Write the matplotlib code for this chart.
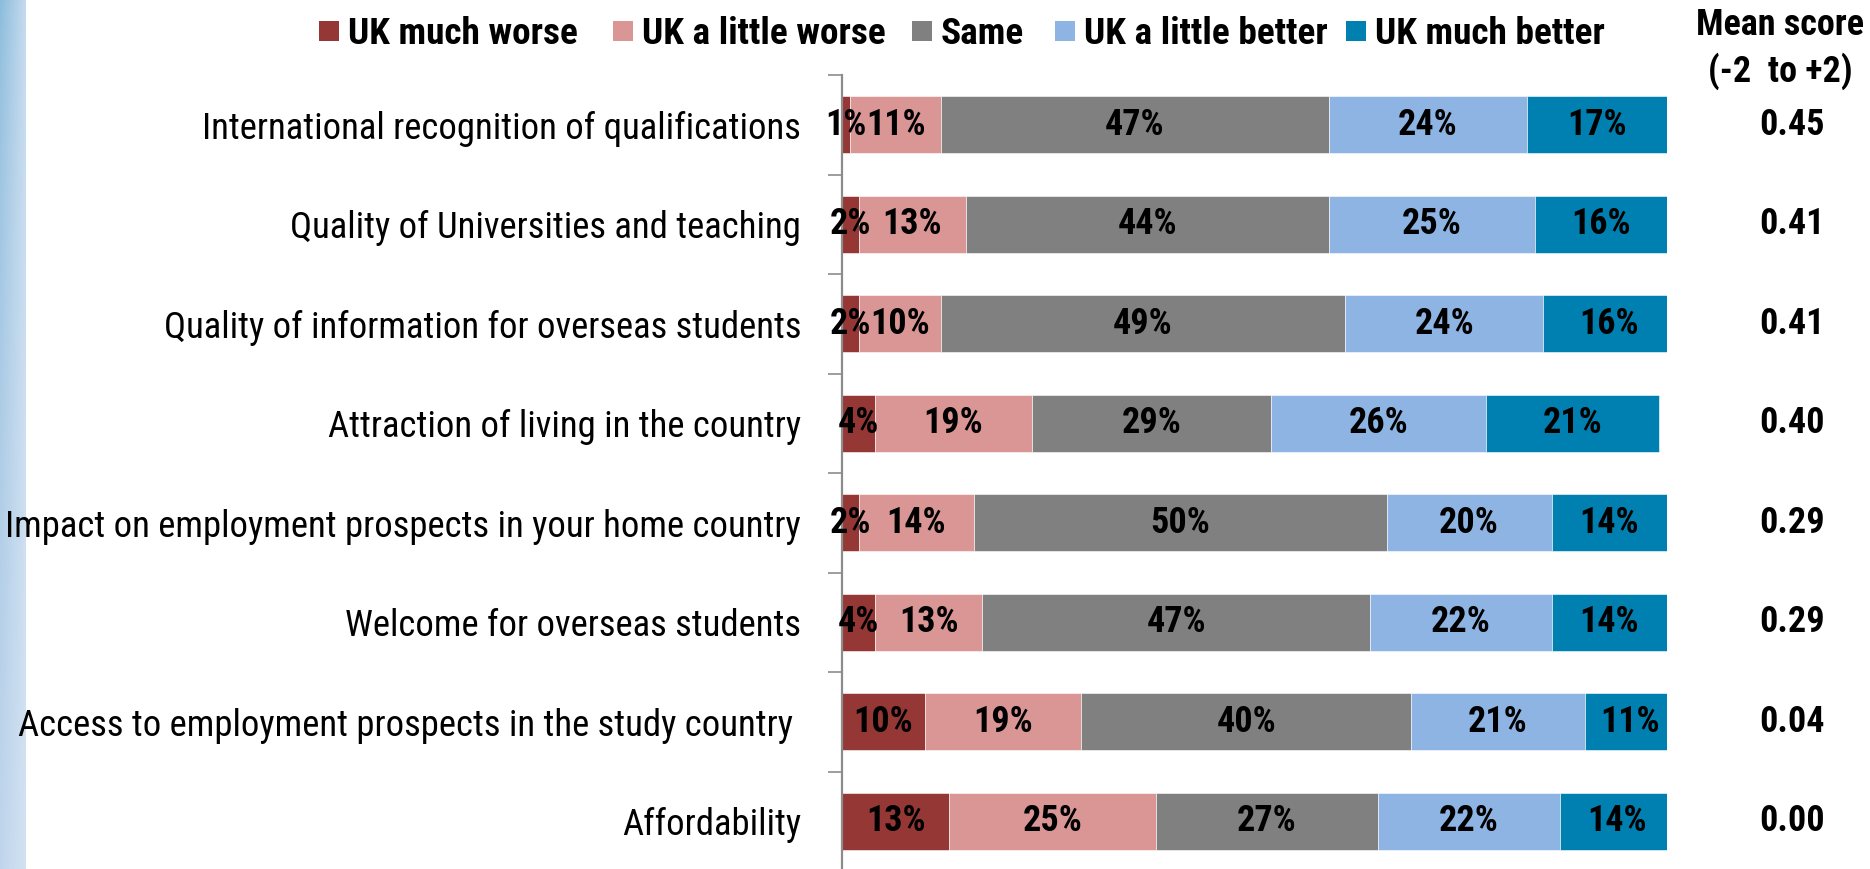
import numpy as np
import matplotlib
matplotlib.use("Agg")
import matplotlib.pyplot as plt
from matplotlib import font_manager
from matplotlib.patches import Rectangle
from matplotlib.transforms import blended_transform_factory

# ---- data ---------------------------------------------------------------
categories = [
    "International recognition of qualifications",
    "Quality of Universities and teaching",
    "Quality of information for overseas students",
    "Attraction of living in the country",
    "Impact on employment prospects in your home country",
    "Welcome for overseas students",
    "Access to employment prospects in the study country ",
    "Affordability",
]
much_worse = [1, 2, 2, 4, 2, 4, 10, 13]
little_worse = [11, 13, 10, 19, 14, 13, 19, 25]
same = [47, 44, 49, 29, 50, 47, 40, 27]
little_better = [24, 25, 24, 26, 20, 22, 21, 22]
much_better = [17, 16, 16, 21, 14, 14, 11, 14]
mean_scores = [0.45, 0.41, 0.41, 0.40, 0.29, 0.29, 0.04, 0.00]

series_names = ["UK much worse", "UK a little worse", "Same",
                "UK a little better", "UK much better"]
series_values = [much_worse, little_worse, same, little_better, much_better]
colors = ["#953735", "#D99694", "#808080", "#8EB4E3", "#0080B0"]

# ---- fonts: prefer a narrow sans, fall back to a regular one --------------
available = {f.name for f in font_manager.fontManager.ttflist}
narrow = next((n for n in ["Liberation Sans Narrow", "Arial Narrow",
                           "Roboto Condensed", "Open Sans Condensed"]
               if n in available), None)
FAMILY = ([narrow] if narrow else []) + ["Liberation Sans", "DejaVu Sans"]
plt.rcParams["font.family"] = FAMILY

W, H = 1870, 869
fig = plt.figure(figsize=(W / 100, H / 100), dpi=100)
fig.patch.set_facecolor("white")
renderer = fig.canvas.get_renderer()


def text_width(text, size, weight="normal"):
    t = fig.text(0, 0, text, fontsize=size, fontweight=weight)
    w = t.get_window_extent(renderer).width
    t.remove()
    return w


def fitted_size(text, nominal, target_px, weight="normal"):
    """Font size at which `text` is target_px wide (never above nominal)."""
    return min(nominal, nominal * target_px / text_width(text, nominal, weight))


k = 1.0 if narrow else 0.86
fs_label = fitted_size(categories[4], 28, 793)
fs_leg = fitted_size("UK much worse", 27, 230, "bold")
fs_bar = 26 * k
fs_mean = 26 * k


def fx(px):
    return px / W


def fy(px):
    return 1 - px / H


# ---- decorative gradient stripe on the left edge -------------------------
sax = fig.add_axes([0, 0, fx(26), 1])
tl, tr = np.array([138, 188, 220]), np.array([196, 218, 238])
bl, br = np.array([192, 213, 236]), np.array([210, 226, 242])
u = np.linspace(0, 1, 26)[None, :, None]
v = np.linspace(0, 1, 200)[:, None, None] ** 0.6
grad = (tl * (1 - u) * (1 - v) + tr * u * (1 - v)
        + bl * (1 - u) * v + br * u * v) / 255.0
sax.imshow(grad, aspect="auto", extent=[0, 1, 0, 1], origin="upper")
sax.set_axis_off()

# ---- main chart -----------------------------------------------------------
ax_h = 796 / H
ax = fig.add_axes([fx(842), fy(75) - ax_h, fx(1667) - fx(842), ax_h])

y = np.arange(len(categories))
left = np.zeros(len(categories))
for name, vals, col in zip(series_names, series_values, colors):
    vals = np.array(vals, dtype=float)
    ax.barh(y, vals, left=left, height=0.57, color=col, label=name,
            edgecolor="white", linewidth=0.4, zorder=2)
    for yi, (l, v_) in enumerate(zip(left, vals)):
        ax.text(l + v_ / 2, yi, f"{int(v_)}%", ha="center", va="center",
                fontsize=fs_bar, fontweight="bold", color="black", zorder=10)
    left += vals

ax.set_xlim(0, 100)
ax.set_ylim(len(categories) - 0.5, -0.5)
ax.set_yticks(y)
ax.set_yticklabels(categories, fontsize=fs_label)
ax.set_yticks(np.arange(-0.5, len(categories)), minor=True)
ax.tick_params(axis="y", which="major", length=0, pad=29.5)
ax.tick_params(axis="y", which="minor", length=10, width=1.2,
               color="#8c8c8c", direction="out")
ax.tick_params(axis="x", which="both", bottom=False, labelbottom=False)
for s in ["top", "right", "bottom"]:
    ax.spines[s].set_visible(False)
ax.spines["left"].set_color("#8c8c8c")
ax.spines["left"].set_linewidth(1.6)
ax.spines["left"].set_zorder(5)

# ---- legend row: colour square followed by series name -------------------
legend_x = [319, 613, 912, 1055, 1330]
prev_end = 0
for x0, name, col in zip(legend_x, series_names, colors):
    x0 = max(x0, prev_end + 18)
    fig.patches.append(Rectangle((fx(x0), fy(41)), fx(20), 20 / H,
                                 transform=fig.transFigure, facecolor=col,
                                 edgecolor="none"))
    fig.text(fx(x0 + 29), fy(44), name, ha="left", va="baseline",
             fontsize=fs_leg, fontweight="bold")
    prev_end = x0 + 29 + text_width(name, fs_leg, "bold")

# ---- mean score column ---------------------------------------------------
fig.text(fx(1780), fy(35), "Mean score", ha="center", va="baseline",
         fontsize=fs_mean, fontweight="bold")
fig.text(fx(1780), fy(82), "(-2  to +2)", ha="center", va="baseline",
         fontsize=fs_mean, fontweight="bold")
trans = blended_transform_factory(fig.transFigure, ax.transData)
for yi, m in enumerate(mean_scores):
    ax.text(fx(1792), yi, f"{m:.2f}", transform=trans, ha="center",
            va="center", fontsize=fs_mean, fontweight="bold", clip_on=False)

fig.savefig("out.png", dpi=100, facecolor="white")
